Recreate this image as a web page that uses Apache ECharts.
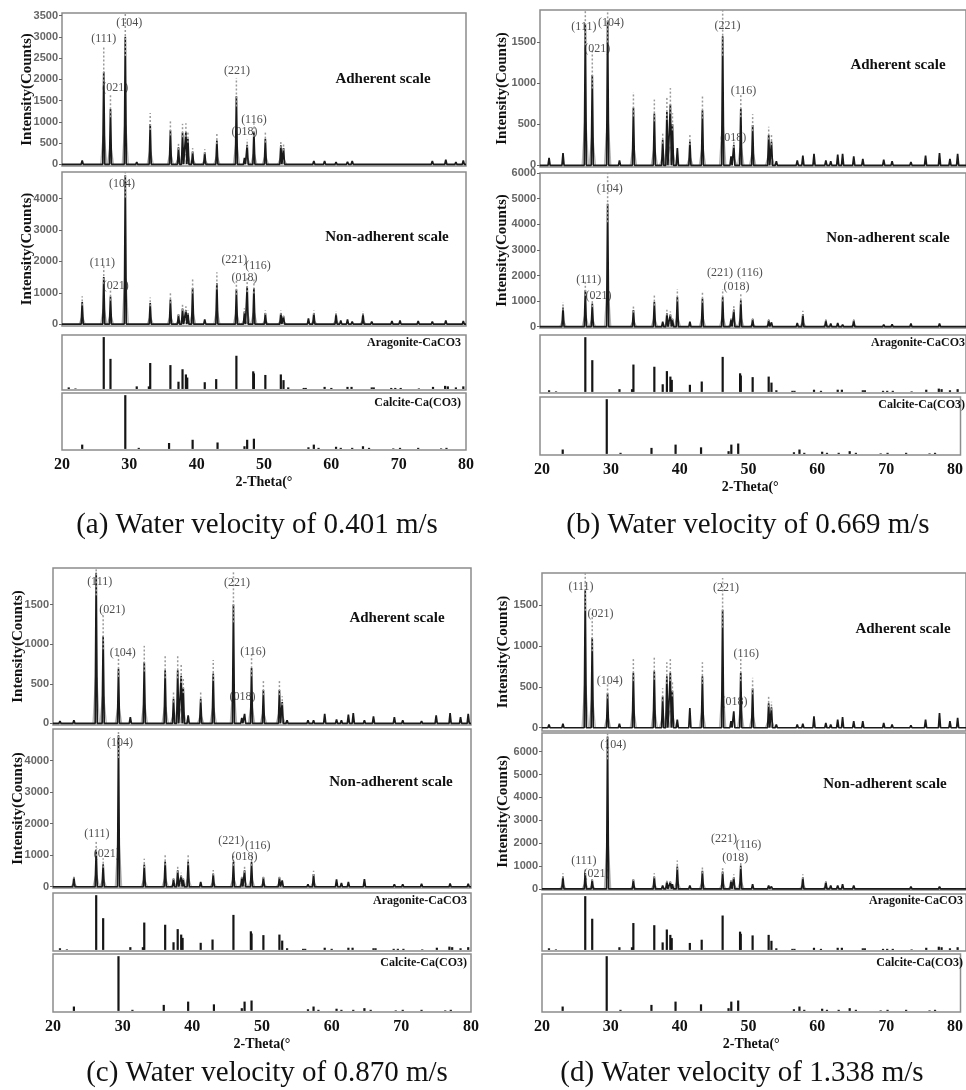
<!DOCTYPE html>
<html>
<head>
<meta charset="utf-8">
<script src="https://cdn.jsdelivr.net/npm/echarts@6/dist/echarts.min.js"></script>
<style>
html, body { margin: 0; padding: 0; background: #fff; }
#chart { width: 966px; height: 1090px; }
</style>
</head>
<body>
<div id="chart"></div>
<script>
// 2-theta positions of the peaks in the measured patterns
const peakTheta = [21.0, 23.0, 26.2, 27.2, 29.4, 31.1, 33.1, 36.1, 37.3, 37.9, 38.4, 38.7, 39.4, 41.2, 43.0, 45.9, 47.1, 47.5, 48.5, 50.2,
  52.5, 52.9, 53.6, 56.6, 57.4, 59.0, 60.7, 61.4, 62.4, 63.1, 64.7, 66.0, 69.0, 70.2, 72.9, 75.0, 77.0, 78.5, 79.6];

// peak intensities (counts), same order as peakTheta
const adhA = [30, 90, 2180, 1300, 3000, 50, 950, 800, 400, 750, 760, 600, 300, 280, 560, 1600, 150, 460, 760, 600,
  450, 380, 40, 40, 80, 80, 50, 40, 60, 80, 30, 40, 40, 30, 20, 80, 110, 50, 90];
const nonA = [30, 700, 1500, 880, 4750, 60, 670, 780, 300, 500, 450, 350, 1150, 150, 1300, 1100, 400, 1200, 1150, 350,
  350, 250, 50, 180, 350, 60, 330, 120, 150, 80, 330, 80, 100, 120, 100, 80, 120, 50, 100];
const adhB = [90, 150, 1720, 1100, 1760, 60, 700, 630, 310, 650, 740, 500, 210, 290, 670, 1570, 110, 250, 690, 490,
  370, 290, 50, 60, 120, 140, 60, 50, 130, 140, 110, 80, 70, 50, 40, 120, 150, 80, 140];
const nonB = [50, 750, 1420, 900, 4800, 50, 650, 970, 200, 520, 470, 300, 1160, 200, 1100, 1160, 300, 670, 1030, 300,
  260, 170, 50, 150, 490, 60, 250, 120, 150, 80, 250, 60, 80, 90, 120, 60, 120, 50, 60];
const adhC = [30, 40, 1900, 1100, 690, 80, 770, 670, 310, 670, 600, 450, 100, 310, 630, 1500, 70, 120, 700, 420,
  420, 270, 40, 40, 40, 120, 50, 40, 110, 130, 40, 90, 80, 40, 30, 100, 130, 80, 120];
const nonC = [30, 300, 1150, 710, 4800, 60, 700, 800, 250, 520, 350, 250, 800, 150, 420, 780, 300, 520, 780, 300,
  300, 200, 40, 80, 400, 50, 230, 120, 150, 60, 240, 50, 80, 80, 90, 40, 100, 40, 90];
const adhD = [40, 50, 1680, 1100, 420, 50, 670, 690, 380, 630, 670, 450, 100, 240, 630, 1440, 80, 200, 670, 480,
  300, 250, 40, 40, 50, 140, 60, 40, 100, 130, 80, 80, 60, 40, 30, 100, 180, 80, 120];
const nonD = [40, 540, 690, 400, 6670, 50, 400, 540, 150, 320, 300, 200, 980, 150, 790, 760, 350, 500, 1020, 200,
  150, 100, 40, 80, 500, 40, 300, 150, 150, 200, 150, 40, 80, 80, 100, 50, 100, 40, 50];

// reference stick patterns (relative intensity, %)
const aragTheta = [21.0, 22.0, 26.2, 27.2, 31.1, 32.9, 33.1, 36.1, 37.3, 37.9, 38.4, 38.6, 41.2, 42.9, 45.9, 48.4, 48.5, 50.2, 52.5, 52.9,
  53.6, 55.9, 56.2, 59.0, 60.0, 62.4, 63.0, 66.0, 66.3, 68.9, 69.5, 70.3, 73.0, 75.1, 76.9, 77.3, 78.5, 79.6];
const aragRel = [3, 1, 100, 58, 5, 5, 50, 46, 14, 38, 28, 22, 13, 19, 64, 34, 30, 27, 28, 17,
  3, 2, 2, 4, 2, 4, 4, 3, 3, 2, 2, 2, 1, 4, 6, 5, 3, 5];
const calcTheta = [23.0, 29.4, 31.4, 35.9, 39.4, 43.1, 47.1, 47.5, 48.5, 56.6, 57.4, 58.1, 60.7, 61.4, 63.1, 64.7, 65.6, 69.2, 70.2, 72.9, 76.3, 77.1];
const calcRel = [8, 100, 2, 11, 17, 12, 5, 17, 19, 3, 8, 2, 4, 2, 2, 5, 2, 1, 2, 2, 1, 2];

// hkl labels and where they sit (2-theta, counts) in each measured plot
const hklNames = ['(111)', '(021)', '(104)', '(221)', '(018)', '(116)'];
const hklAdhA = [[26.2, 2960], [27.9, 1790], [30.0, 3320], [46.0, 2200], [47.1, 760], [48.5, 1050]];
const hklNonA = [[26.0, 1940], [28.0, 1220], [28.9, 4480], [45.6, 2060], [47.1, 1460], [49.1, 1850]];
const hklAdhB = [[26.0, 1680], [27.9, 1420], [29.9, 1730], [46.6, 1700], [47.4, 330], [48.9, 910]];
const hklNonB = [[26.7, 1830], [28.1, 1190], [29.7, 5380], [45.5, 2100], [47.9, 1550], [49.8, 2100]];
const hklAdhC = [[26.7, 1785], [28.5, 1434], [30.0, 886], [46.4, 1777], [47.2, 330], [48.7, 900]];
const hklNonC = [[26.3, 1670], [27.7, 1045], [29.6, 4567], [45.6, 1463], [47.5, 940], [49.4, 1306]];
const hklAdhD = [[25.6, 1724], [28.4, 1390], [29.7, 577], [46.4, 1703], [47.6, 317], [49.3, 902]];
const hklNonD = [[26.0, 1240], [27.8, 642], [30.2, 6307], [46.1, 2175], [47.7, 1372], [49.6, 1927]];

const xTicks = [20, 30, 40, 50, 60, 70, 80];
const yTicksAdhA = [0, 500, 1000, 1500, 2000, 2500, 3000, 3500];
const yTicksNonA = [0, 1000, 2000, 3000, 4000];
const yTicksAdh = [0, 500, 1000, 1500];
const yTicksNonB = [0, 1000, 2000, 3000, 4000, 5000, 6000];
const yTicksNonC = [0, 1000, 2000, 3000, 4000];

const captions = ['(a) Water velocity of 0.401 m/s', '(b) Water velocity of 0.669 m/s',
  '(c) Water velocity of 0.870 m/s', '(d) Water velocity of 1.338 m/s'];

// ---- layout ----
const boxes = [
  [62, 13, 404, 153], [62, 172, 404, 154], [62, 335, 404, 55], [62, 393, 404, 57],
  [540, 10, 427, 157], [540, 173, 427, 155], [540, 335, 427, 58], [540, 397, 427, 58],
  [53, 568, 418, 157], [53, 729, 418, 159], [53, 893, 418, 58], [53, 954, 418, 58],
  [542, 573, 425, 158], [542, 733, 425, 157], [542, 894, 425, 57], [542, 954, 425, 58]
];
const xRange = [[20, 80], [19.7, 80.8], [20, 80], [20, 80.8]];
const measured = [
  { h: adhA, hkl: hklAdhA, y: [-40, 3560], ticks: yTicksAdhA },
  { h: nonA, hkl: hklNonA, y: [-60, 4850], ticks: yTicksNonA },
  { h: adhB, hkl: hklAdhB, y: [-20, 1890], ticks: yTicksAdh },
  { h: nonB, hkl: hklNonB, y: [-50, 6000], ticks: yTicksNonB },
  { h: adhC, hkl: hklAdhC, y: [-20, 1960], ticks: yTicksAdh },
  { h: nonC, hkl: hklNonC, y: [-40, 5000], ticks: yTicksNonC },
  { h: adhD, hkl: hklAdhD, y: [-40, 1890], ticks: yTicksAdh },
  { h: nonD, hkl: hklNonD, y: [-50, 6820], ticks: yTicksNonB }
];
const nameGaps = [27, 27, 30, 30, 27, 27, 31, 31];

const SERIF = 'Liberation Serif';
const grids = [], xAxes = [], yAxes = [], series = [];

function spikePoints(heights, xMin, xMax) {
  const pts = [[xMin, 0]];
  peakTheta.forEach((t, i) => {
    pts.push([t - 0.15, 0], [t, heights[i]], [t + 0.15, 0]);
  });
  pts.push([xMax, 0]);
  return pts;
}

function haloItem(params, api) {
  const t = api.value(0), h = api.value(1);
  const pts = [api.coord([t - 0.45, 0]), api.coord([t - 0.1, h * 0.3]), api.coord([t + 0.1, h * 0.3]), api.coord([t + 0.45, 0])];
  return { type: 'polyline', shape: { points: pts }, style: { stroke: '#b5b5b5', lineWidth: 1.3, fill: null } };
}

function dotItem(params, api) {
  const t = api.value(0), h = api.value(1);
  const p0 = api.coord([t, h * 0.85]);
  const p1 = api.coord([t, h * 1.27]);
  return { type: 'line', shape: { x1: p0[0], y1: p0[1], x2: p1[0], y2: p1[1] },
    style: { stroke: '#9a9a9a', lineWidth: 1.5, lineDash: [2, 2] } };
}

function stickItem(params, api) {
  const p0 = api.coord([api.value(0), 0]);
  const p1 = api.coord([api.value(0), api.value(1)]);
  return { type: 'line', shape: { x1: p0[0], y1: p0[1], x2: p1[0], y2: p1[1] },
    style: { stroke: '#151515', lineWidth: 2.2 } };
}

for (let g = 0; g < 16; g++) {
  const p = Math.floor(g / 4), row = g % 4;
  const b = boxes[g];
  grids.push({ left: b[0], top: b[1], width: b[2], height: b[3], show: true,
    borderColor: '#8c8c8c', borderWidth: 1.5, backgroundColor: 'transparent' });
  const isCalc = row === 3;
  xAxes.push({
    gridIndex: g, type: 'value', min: xRange[p][0], max: xRange[p][1],
    axisLine: { show: false }, axisTick: { show: false }, splitLine: { show: false },
    axisLabel: { show: isCalc, customValues: xTicks, margin: 7, fontFamily: SERIF, fontWeight: 'bold', fontSize: 16, color: '#111' },
    name: isCalc ? '2-Theta(\u00b0' : '', nameLocation: 'middle', nameGap: 25, nameMoveOverlap: false,
    nameTextStyle: { fontFamily: SERIF, fontWeight: 'bold', fontSize: 14, color: '#111' }
  });
  if (row < 2) {
    const m = measured[p * 2 + row];
    yAxes.push({
      gridIndex: g, type: 'value', min: m.y[0], max: m.y[1],
      axisLine: { show: false }, splitLine: { show: false },
      axisTick: { show: true, length: 3, customValues: m.ticks, lineStyle: { color: '#666' } },
      axisLabel: { customValues: m.ticks, margin: 4, formatter: v => String(v),
        fontFamily: 'Liberation Sans', fontWeight: 'bold', fontSize: 11, color: '#666' },
      name: 'Intensity(Counts)', nameLocation: 'middle', nameGap: nameGaps[p * 2 + row], nameMoveOverlap: false,
      nameTextStyle: { fontFamily: SERIF, fontWeight: 'bold', fontSize: 15, color: '#111' }
    });
    const marks = peakTheta.map((t, k) => [t, m.h[k]]).filter(d => d[1] >= 250);
    series.push({ type: 'custom', xAxisIndex: g, yAxisIndex: g, clip: true, z: 1, data: marks, renderItem: haloItem, silent: true });
    series.push({ type: 'line', xAxisIndex: g, yAxisIndex: g, z: 2, data: spikePoints(m.h, xRange[p][0], xRange[p][1]),
      symbol: 'none', clip: true, lineStyle: { color: '#1a1a1a', width: 1.7 } });
    series.push({ type: 'custom', xAxisIndex: g, yAxisIndex: g, clip: true, z: 3, data: marks, renderItem: dotItem, silent: true });
    series.push({ type: 'scatter', xAxisIndex: g, yAxisIndex: g, z: 5, symbolSize: 0,
      data: m.hkl.map((d, k) => ({ name: hklNames[k], value: d })),
      label: { show: true, position: 'inside', formatter: '{b}', fontFamily: SERIF, fontSize: 12, color: '#222' } });
  } else {
    yAxes.push({ gridIndex: g, type: 'value', min: -2, max: 104, show: false });
    const th = row === 2 ? aragTheta : calcTheta;
    const rel = row === 2 ? aragRel : calcRel;
    series.push({ type: 'custom', xAxisIndex: g, yAxisIndex: g, clip: true,
      data: th.map((t, k) => [t, rel[k]]), renderItem: stickItem });
  }
}

const boldText = (txt, x, y, size, align) => ({
  type: 'text', x: x, y: y,
  style: { text: txt, fontFamily: SERIF, fontWeight: 'bold', fontSize: size, fill: '#111', align: align || 'center', verticalAlign: 'middle' }
});
const graphics = [
  boldText('Adherent scale', 383, 79, 15), boldText('Non-adherent scale', 387, 237, 15),
  boldText('Aragonite-CaCO3', 461, 343, 12, 'right'), boldText('Calcite-Ca(CO3)', 461, 403, 12, 'right'),
  boldText('Adherent scale', 898, 65, 15), boldText('Non-adherent scale', 888, 238, 15),
  boldText('Aragonite-CaCO3', 965, 343, 12, 'right'), boldText('Calcite-Ca(CO3)', 965, 405, 12, 'right'),
  boldText('Adherent scale', 397, 618, 15), boldText('Non-adherent scale', 391, 782, 15),
  boldText('Aragonite-CaCO3', 467, 901, 12, 'right'), boldText('Calcite-Ca(CO3)', 467, 963, 12, 'right'),
  boldText('Adherent scale', 903, 629, 15), boldText('Non-adherent scale', 885, 784, 15),
  boldText('Aragonite-CaCO3', 963, 901, 12, 'right'), boldText('Calcite-Ca(CO3)', 963, 963, 12, 'right')
];
const capPos = [[257, 525], [748, 525], [267, 1073], [742, 1073]];
captions.forEach((c, i) => {
  graphics.push({ type: 'text', x: capPos[i][0], y: capPos[i][1],
    style: { text: c, fontFamily: SERIF, fontSize: 29, fill: '#111', align: 'center', verticalAlign: 'middle' } });
});

const chart = echarts.init(document.getElementById('chart'));
chart.setOption({
  animation: false,
  backgroundColor: '#fff',
  grid: grids,
  xAxis: xAxes,
  yAxis: yAxes,
  series: series,
  graphic: graphics
});
</script>
</body>
</html>
